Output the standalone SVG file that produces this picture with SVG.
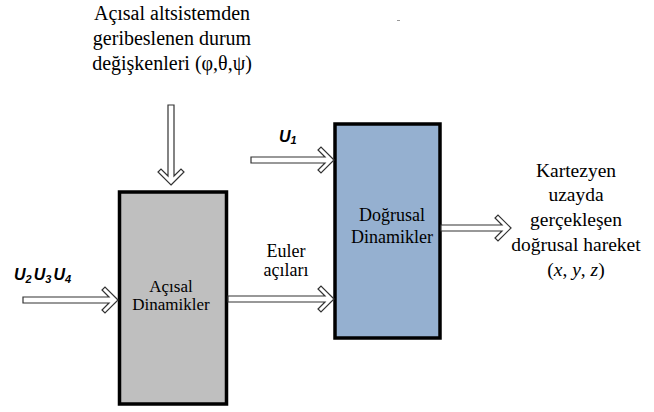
<svg xmlns="http://www.w3.org/2000/svg" width="654" height="412" viewBox="0 0 654 412">
<defs>
<style>
text.serif{font-family:"Liberation Serif",Tinos,"Times New Roman",Times,"Nimbus Roman","DejaVu Serif","Noto Serif",serif;fill:#000;text-anchor:middle}
text.u{font-family:"Liberation Sans",Arial,sans-serif;font-weight:bold;font-style:italic;fill:#000}
.arrow{fill:#fff;stroke:#333;stroke-width:1.2;stroke-linejoin:miter}
.box{stroke:#000;stroke-width:3.5}
</style>
</defs>
<rect width="654" height="412" fill="#fff"/>
<rect x="397" y="20" width="3" height="1" fill="#999"/>

<g id="top-label">
<text class="serif" font-size="20" x="172" y="20">Açısal altsistemden</text>
<text class="serif" font-size="20" x="172" y="45">geribeslenen durum</text>
<text class="serif" font-size="20" x="172" y="70">değişkenleri (φ,θ,ψ)</text>
</g>

<g id="acisal">
<rect class="box" x="119.5" y="192" width="107" height="212" fill="#bfbfbf"/>
<text class="serif" font-size="17" x="171" y="292">Açısal</text>
<text class="serif" font-size="17" x="171" y="310">Dinamikler</text>
</g>

<g id="dogrusal">
<rect class="box" x="335" y="124" width="105" height="214" fill="#95b0d0"/>
<text class="serif" font-size="18" x="392" y="221">Doğrusal</text>
<text class="serif" font-size="18" x="392" y="243">Dinamikler</text>
</g>

<g id="output-label">
<text class="serif" font-size="19.5" x="576" y="177">Kartezyen</text>
<text class="serif" font-size="19.5" x="576" y="201">uzayda</text>
<text class="serif" font-size="19.5" x="576" y="226">gerçekleşen</text>
<text class="serif" font-size="19.5" x="576" y="251">doğrusal hareket</text>
<text class="serif" font-size="19.5" x="576" y="276">(<tspan font-style="italic">x</tspan>, <tspan font-style="italic">y</tspan>, <tspan font-style="italic">z</tspan>)</text>
</g>

<g id="inputs">
<text class="u" font-size="16" x="14" y="280">U<tspan font-size="11" dy="3">2</tspan><tspan dy="-3" dx="2">U</tspan><tspan font-size="11" dy="3">3</tspan><tspan dy="-3" dx="2">U</tspan><tspan font-size="11" dy="3">4</tspan></text>
<text class="u" font-size="16" x="279" y="142">U<tspan font-size="11" dy="2">1</tspan></text>
<text class="serif" font-size="18" x="286" y="257">Euler</text>
<text class="serif" font-size="18" x="286" y="276">açıları</text>
</g>

<g id="connectors">
<path class="arrow" transform="translate(171,185) rotate(90)" d="M0,0 L-13,-13 L-16,-10 L-9,-3 L-80,-3 L-80,3 L-9,3 L-16,10 L-13,13 Z"/>
<path class="arrow" transform="translate(118,300)" d="M0,0 L-13,-13 L-16,-10 L-9,-3 L-95,-3 L-95,3 L-9,3 L-16,10 L-13,13 Z"/>
<path class="arrow" transform="translate(334,160)" d="M0,0 L-13,-13 L-16,-10 L-9,-3 L-83,-3 L-83,3 L-9,3 L-16,10 L-13,13 Z"/>
<path class="arrow" transform="translate(334,299)" d="M0,0 L-13,-13 L-16,-10 L-9,-3 L-106,-3 L-106,3 L-9,3 L-16,10 L-13,13 Z"/>
<path class="arrow" transform="translate(511,228)" d="M0,0 L-13,-13 L-16,-10 L-9,-3 L-70,-3 L-70,3 L-9,3 L-16,10 L-13,13 Z"/>
</g>
</svg>
